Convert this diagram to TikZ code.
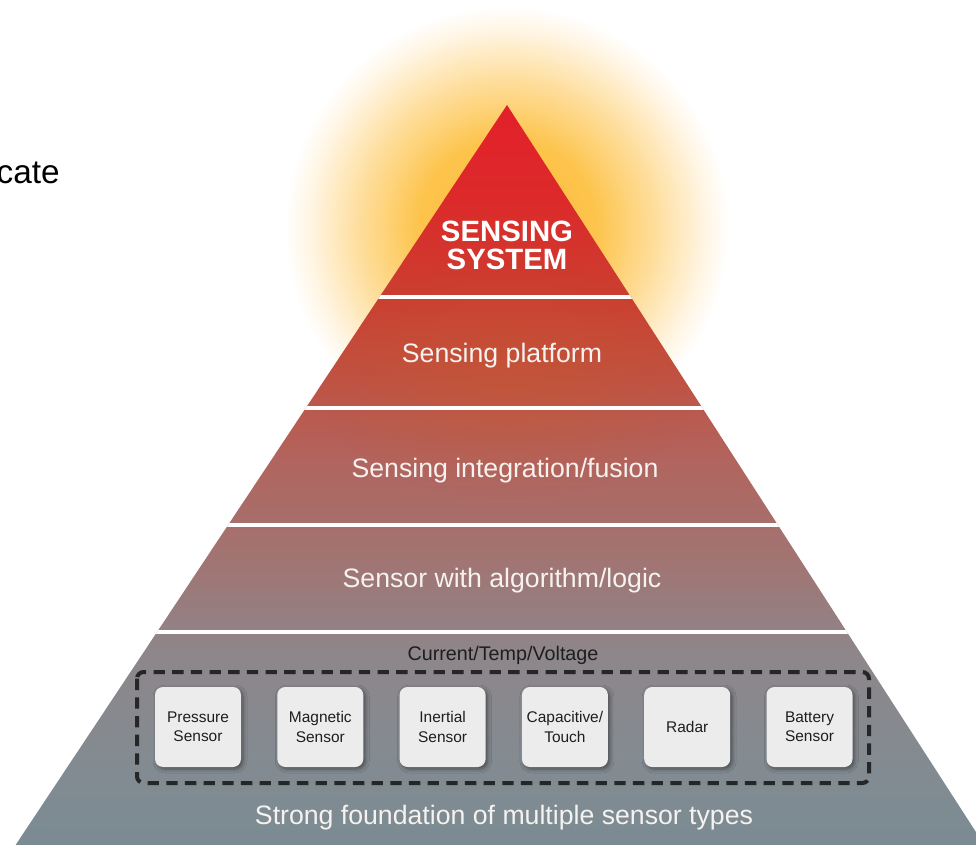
\documentclass[tikz,border=0pt]{standalone}
\usepackage{fontspec}
\setmainfont{Liberation Sans}
\usetikzlibrary{shadows.blur,fadings}

\definecolor{glowcore}{HTML}{FDB73A}
\definecolor{glowmid}{HTML}{FDC44C}
\definecolor{glowpale}{HTML}{FEDFA0}
\definecolor{glowfade}{HTML}{FFF4E0}
\definecolor{pyA}{HTML}{E3202A}
\definecolor{pyB}{HTML}{DC2A2A}
\definecolor{pyC}{HTML}{CC3D30}
\definecolor{pyD}{HTML}{C24E3E}
\definecolor{pyE}{HTML}{B2645E}
\definecolor{pyF}{HTML}{9D7877}
\definecolor{pyG}{HTML}{8E868A}
\definecolor{pyH}{HTML}{838B91}
\definecolor{pyI}{HTML}{7B8B93}
\definecolor{tint}{HTML}{C8582A}
\definecolor{boxgrey}{HTML}{ECECEC}
\definecolor{darktext}{HTML}{1E1E1E}
\definecolor{dashgrey}{HTML}{262626}
\definecolor{leveltext}{HTML}{F6F2F0}

\pgfdeclareradialshading{glowshade}{\pgfpoint{0bp}{0bp}}{color(0bp)=(glowcore); color(10bp)=(glowmid); color(17bp)=(glowpale); color(22bp)=(glowfade); color(25bp)=(white); color(50bp)=(white)}
\pgfdeclareverticalshading{pyramidshade}{100bp}{color(0bp)=(pyI); color(25bp)=(pyI); color(30.7bp)=(pyH); color(38.2bp)=(pyG); color(42.9bp)=(pyF); color(51bp)=(pyE); color(57.8bp)=(pyD); color(62.5bp)=(pyC); color(68.6bp)=(pyB); color(75bp)=(pyA); color(100bp)=(pyA)}
\tikzfading[name=tintfade,inner color=transparent!0,outer color=transparent!100]

\tikzset{
  gapline/.style={draw=white,line width=3pt},
  level/.style={text=leveltext,inner sep=0pt,anchor=base,font=\fontsize{20}{24}\selectfont},
  sysword/.style={text=white,inner sep=0pt,anchor=base,font=\fontsize{22}{26}\selectfont\bfseries},
  sensorbox/.style={fill=boxgrey,rounded corners=6pt,minimum width=64.5pt,minimum height=60pt,
    align=center,inner sep=0pt,text=darktext,font=\fontsize{11.6}{14.3}\selectfont,
    blur shadow={shadow xshift=1.5pt,shadow yshift=-1.5pt,shadow blur radius=3pt,shadow opacity=45}},
  groupline/.style={draw=dashgrey,line width=3pt,dash pattern=on 8.5pt off 5.5pt,rounded corners=5pt}
}

\begin{document}
\begin{tikzpicture}[x=0.75pt,y=-0.75pt]
\useasboundingbox (0,0) rectangle (976,845);
% glow behind the top
\shade[shading=glowshade] (507,228) circle (222);
% pyramid with white gaps
\begin{scope}
  \clip (507,105) -- (984.3,845) -- (15.6,845) -- cycle;
  \shade[shading=pyramidshade] (15,105) rectangle (985,845);
  \fill[tint,fill opacity=0.4,path fading=tintfade] (507,380) ellipse (190 and 120);
  \foreach \y in {297,408,525,632}
    \draw[gapline] (0,\y) -- (976,\y);
\end{scope}
% level labels
\node[sysword] (sys1) at (507,242) {SENSING};
\node[sysword] (sys2) at (507,270) {SYSTEM};
\node[level] (platform) at (502,363) {Sensing platform};
\node[level] (fusion) at (505,477) {Sensing integration/fusion};
\node[level] (logic) at (502,587) {Sensor with algorithm/logic};
\node[level,text=darktext,font=\fontsize{14.8}{18}\selectfont] (ctv) at (503,660) {Current/Temp/Voltage};
\node[level] (found) at (504,824) {Strong foundation of multiple sensor types};
% sensor types
\draw[groupline] (137,672) rectangle (869,783);
\foreach \lbl [count=\i] in {{Pressure\\Sensor},{Magnetic\\Sensor},{Inertial\\Sensor},{Capacitive/\\Touch},{Radar},{Battery\\Sensor}}
  \node[sensorbox] (s\i) at ({198+122.3*(\i-1)},727) {\lbl};
% cut-off word at the left
\node[inner sep=0pt,anchor=base east,font=\fontsize{25}{30}\selectfont] (cut) at (60,184) {cate};
\end{tikzpicture}
\end{document}
